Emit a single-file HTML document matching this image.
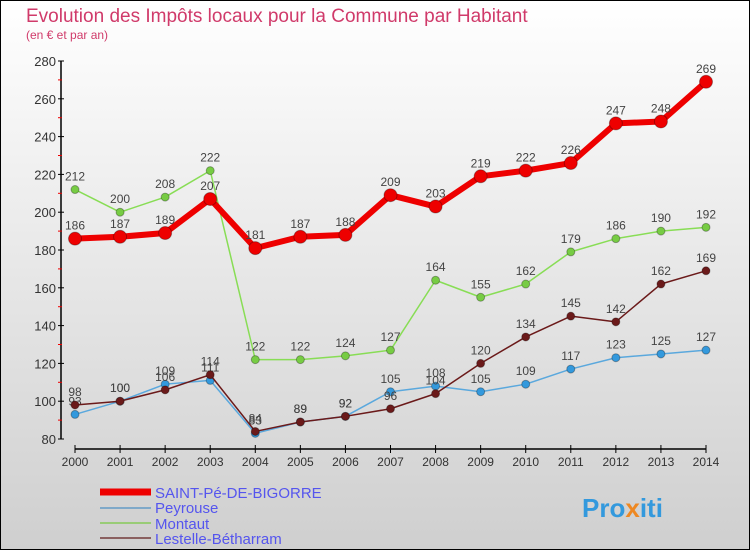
<!DOCTYPE html>
<html><head><meta charset="utf-8"><style>
body{margin:0}
#c{width:748px;height:548px;border:1px solid #000;background:linear-gradient(#fff,#e2e2e2 60%,#cfcfcf);position:relative;font-family:"Liberation Sans",sans-serif;overflow:hidden}
</style></head><body>
<div id="c">
<svg width="750" height="550" id="svg" style="position:absolute;left:-1px;top:-1px">
<text x="26" y="22" font-size="19" fill="#d03a6a">Evolution des Impôts locaux pour la Commune par Habitant</text>
<text x="26" y="39" font-size="12" fill="#d03a6a">(en € et par an)</text>
<g id="ax"></g><g id="series"></g>
<g font-size="15" fill="#5555ee">
<line x1="100" y1="492" x2="151" y2="492" stroke="#e00" stroke-width="7"/>
<text x="155" y="498">SAINT-Pé-DE-BIGORRE</text>
<line x1="100" y1="508" x2="151" y2="508" stroke="#7fa9c9" stroke-width="2"/>
<text x="155" y="513">Peyrouse</text>
<line x1="100" y1="523" x2="151" y2="523" stroke="#99cc77" stroke-width="2"/>
<text x="155" y="529">Montaut</text>
<line x1="100" y1="538" x2="151" y2="538" stroke="#8a6060" stroke-width="2"/>
<text x="155" y="544">Lestelle-Bétharram</text>
</g>
<text x="582" y="517" font-size="26" font-weight="bold" fill="#3399dd">Pro<tspan fill="#ee8822">x</tspan>iti</text>
</svg></div>
<script>
const years=[2000,2001,2002,2003,2004,2005,2006,2007,2008,2009,2010,2011,2012,2013,2014];
const saintPe=[186,187,189,207,181,187,188,209,203,219,222,226,247,248,269];
const peyrouse=[93,100,109,111,83,89,92,105,108,105,109,117,123,125,127];
const montaut=[212,200,208,222,122,122,124,127,164,155,162,179,186,190,192];
const lestelle=[98,100,106,114,84,89,92,96,104,120,134,145,142,162,169];
const yTicks=[80,100,120,140,160,180,200,220,240,260,280];
const NS="http://www.w3.org/2000/svg";
const X=i=>75+i*(706-75)/(years.length-1);
const Y=v=>439-(v-80)*(439-61)/200;
function mk(t,a,p){const e=document.createElementNS(NS,t);for(const k in a)e.setAttribute(k,a[k]);p.appendChild(e);return e;}
const ax=document.getElementById('ax');
let e=mk('line',{x1:61,y1:Y(280),x2:61,y2:Y(80),stroke:'#000','stroke-width':1.5},ax);


yTicks.forEach((v,i)=>{
 mk('line',{x1:58,y1:Y(v),x2:64,y2:Y(v),stroke:'#000'},ax);
 if(i<yTicks.length-1)mk('line',{x1:58,y1:Y(v+10),x2:62,y2:Y(v+10),stroke:'#e00'},ax);
 const t=mk('text',{x:56,y:Y(v)+5,'text-anchor':'end','font-size':13,fill:'#333'},ax);t.textContent=v;
 
 
});
e=mk('line',{x1:X(0),y1:449,x2:X(14),y2:449,stroke:'#000','stroke-width':1.5},ax);


years.forEach((y,i)=>{
 mk('line',{x1:X(i),y1:445,x2:X(i),y2:453,stroke:'#000'},ax);
 const t=mk('text',{x:X(i),y:466,'text-anchor':'middle','font-size':12,fill:'#333'},ax);t.textContent=y;
 
 
});
const sg=document.getElementById('series');
function draw(data,name,col,dot,w,r,fs){
 const g=mk('g',{},sg);
 
 
 mk('polyline',{points:data.map((v,i)=>X(i)+','+Y(v)).join(' '),fill:'none',stroke:col,'stroke-width':w,'stroke-linejoin':'round'},g);
 data.forEach((v,i)=>{
  const c=mk('circle',{cx:X(i),cy:Y(v),r:r,fill:dot,stroke:'rgba(0,0,0,0.3)'},g);
  
  
  const t=mk('text',{x:X(i),y:Y(v)-9,'text-anchor':'middle','font-size':fs,fill:'#444'},g);t.textContent=v;
  
  
 });
}
draw(montaut,'montaut','#88dd55','#77cc44',1.5,4,12);
draw(peyrouse,'peyrouse','#5aa8dd','#3399dd',1.5,4,12);
draw(lestelle,'lestelle','#6b1a1a','#6b1a1a',1.5,4,12);
draw(saintPe,'saint-pe','#ee0000','#ee0000',6,6.5,12);
</script>
</body></html>
